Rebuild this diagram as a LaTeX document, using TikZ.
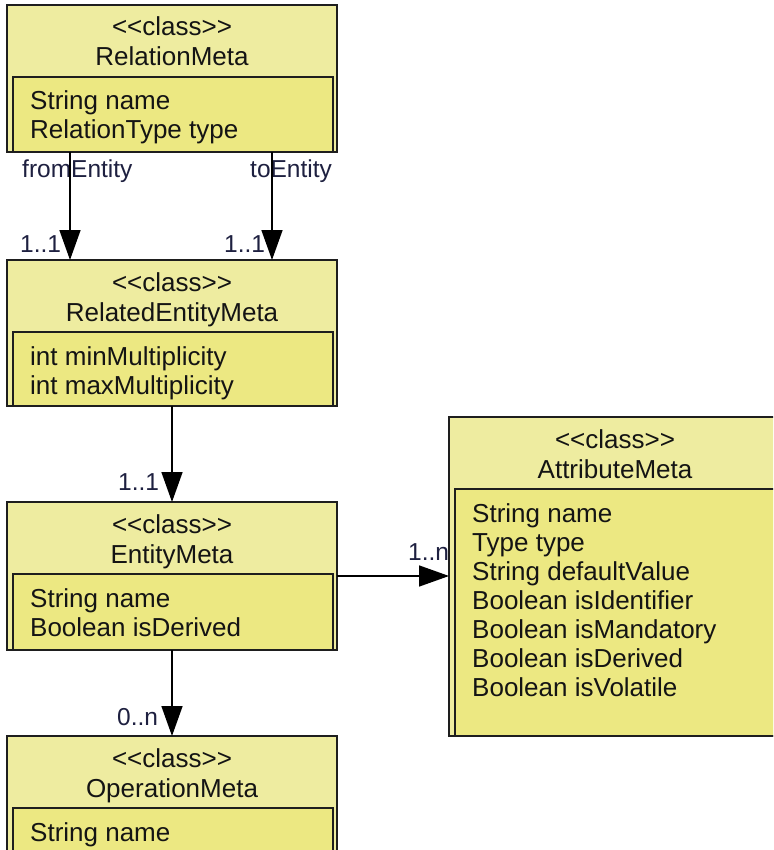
\documentclass[tikz,border=0pt]{standalone}
\usepackage{fontspec}
\setmainfont{Liberation Sans}
\usetikzlibrary{arrows.meta,calc}
\definecolor{outerfill}{RGB}{238,236,160}
\definecolor{innerfill}{RGB}{236,232,130}
\definecolor{boxline}{RGB}{30,30,30}
\definecolor{lblcol}{RGB}{30,32,64}
\definecolor{txtcol}{RGB}{20,20,20}
\tikzset{
  outerbox/.style={draw=boxline, fill=outerfill, line width=1.4pt, inner sep=0pt, outer sep=0pt, anchor=north west},
  innerbox/.style={draw=boxline, fill=innerfill, line width=1.2pt, inner sep=0pt, outer sep=0pt, anchor=north west},
  txt/.style={inner sep=0pt, text=txtcol, font=\fontsize{26}{29}\selectfont},
  lbl/.style={inner sep=0pt, text=lblcol, font=\fontsize{24.5}{28}\selectfont, anchor=base west},
  assoc/.style={draw=black, line width=1.5pt, -{Triangle[length=30pt,width=21pt]}},
}
\newcommand\stereo{\textless\kern0pt\textless\kern0pt class\kern0pt\textgreater\kern0pt\textgreater}
\newcommand\umlclass[7]{%
  \pgfmathsetmacro\cw{#4-#2}%
  \pgfmathsetmacro\ch{#5-#3}%
  \pgfmathsetmacro\iw{#4-#2-10}%
  \pgfmathsetmacro\ih{#5-#3-72}%
  \pgfmathsetmacro\cx{(#2+#4)/2}%
  \node[outerbox, minimum width=\cw pt, minimum height=\ch pt] (#1) at (#2,#3) {};
  \node[innerbox, minimum width=\iw pt, minimum height=\ih pt] (#1-attr) at (#2+6,#3+72) {};
  \node[txt, anchor=base] (#1-st) at (\cx,#3+31) {\stereo};
  \node[txt, anchor=base] (#1-name) at (\cx,#3+61) {#6};
  \foreach \a [count=\i] in {#7} {
    \node[txt, anchor=base west] (#1-a\i) at (#2+23,#3+105+29*\i-29) {\a};
  }
}
\begin{document}
\begin{tikzpicture}[x=1pt,y=-1pt]
\useasboundingbox (0,0) rectangle (773,850);
\clip (0,0) rectangle (773,850);
\fill[white] (0,0) rectangle (773,850);

\umlclass{rm}{7}{5}{337}{152}{RelationMeta}{String name,RelationType type}
\umlclass{rem}{7}{260}{337}{406}{RelatedEntityMeta}{int minMultiplicity,int maxMultiplicity}
\umlclass{em}{7}{502}{337}{650}{EntityMeta}{String name,Boolean isDerived}
\umlclass{om}{7}{736}{337}{900}{OperationMeta}{String name}
\umlclass{am}{449}{417}{781}{736}{AttributeMeta}{String name,Type type,String defaultValue,Boolean isIdentifier,Boolean isMandatory,Boolean isDerived,Boolean isVolatile}

\node[lbl] (l-from) at (22,178) {fromEntity};
\node[lbl] (l-to) at (250,178) {toEntity};
\node[lbl] (l-m1) at (20,252) {1..1};
\node[lbl] (l-m2) at (224,252) {1..1};
\node[lbl] (l-m3) at (118,490) {1..1};
\node[lbl] (l-m4) at (117,725) {0..n};
\node[lbl] (l-m5) at (408,560) {1..n};

\coordinate (rmf) at ($(rm.south west)+(63,0)$);
\coordinate (rmt) at ($(rm.south west)+(265,0)$);
\coordinate (emr) at ($(em.north east)+(0,74)$);
\draw[assoc] (rmf) -- (rmf |- rem.north);
\draw[assoc] (rmt) -- (rmt |- rem.north);
\draw[assoc] (rem.south) -- (em.north);
\draw[assoc] (em.south) -- (om.north);
\draw[assoc] (emr) -- (emr -| am.west);
\end{tikzpicture}
\end{document}
